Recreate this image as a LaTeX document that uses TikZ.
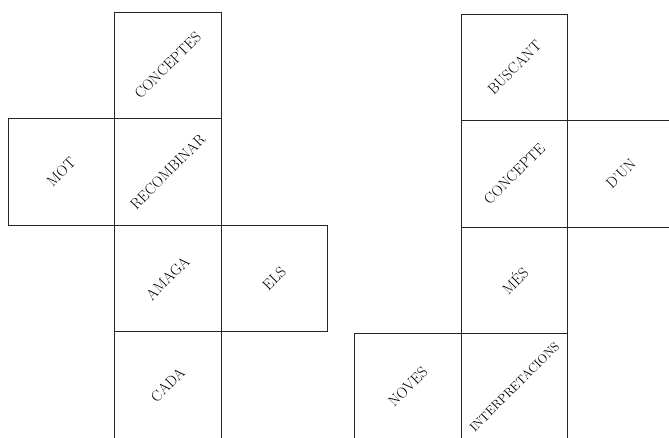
\documentclass[tikz,border=0pt]{standalone}
\begin{document}
\begin{tikzpicture}[x=1pt,y=1pt,
  face/.style={draw=black!85, line width=0.9pt, minimum width=106.5pt, minimum height=106.5pt,
    inner sep=0pt, anchor=north west, font=\fontsize{15}{17}\selectfont},
  smallface/.style={face, font=\fontsize{12.5}{14}\selectfont}]
\useasboundingbox (0,0) rectangle (669,437);
\clip (0,0) rectangle (669,437);
% left net
\node[face] (conceptes) at (114,425.3) {\rotatebox{45}{CONCEPTES}};
\node[face] (recombinar) at (114,318.8) {\rotatebox{45}{RECOMBINAR}};
\node[face] (mot) at (7.5,318.8) {\rotatebox{45}{MOT}};
\node[face] (amaga) at (114,212.3) {\rotatebox{45}{AMAGA}};
\node[face] (els) at (220.5,212.3) {\rotatebox{45}{ELS}};
\node[face] (cada) at (114,105.8) {\rotatebox{45}{CADA}};
% right net
\node[face] (buscant) at (460.7,423.3) {\rotatebox{45}{BUSCANT}};
\node[face] (concepte) at (460.7,316.8) {\rotatebox{45}{CONCEPTE}};
\node[face] (dun) at (567.2,316.8) {\rotatebox{45}{D'UN}};
\node[face] (mes) at (460.7,210.3) {\rotatebox{45}{MÉS}};
\node[face] (noves) at (354.2,103.8) {\rotatebox{45}{NOVES}};
\node[smallface] (interp) at (460.7,103.8) {\rotatebox{45}{INTERPRETACIONS}};
\end{tikzpicture}
\end{document}
